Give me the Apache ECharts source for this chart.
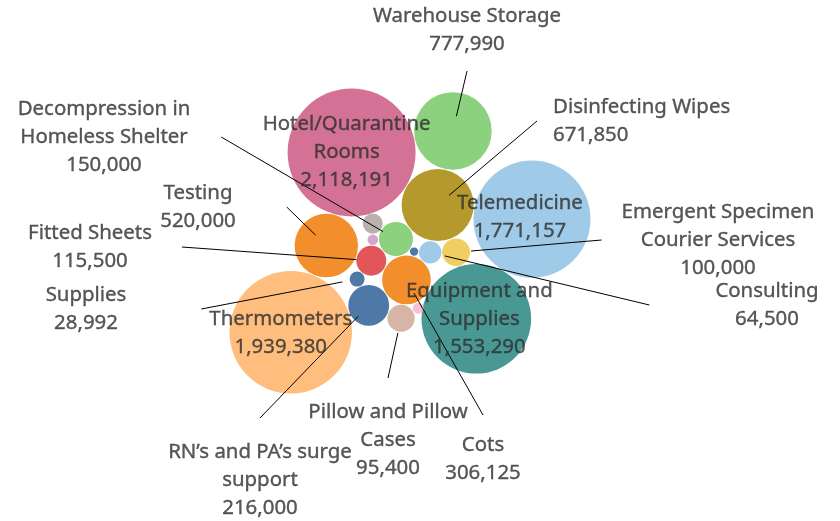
<!DOCTYPE html>
<html>
<head>
<meta charset="utf-8">
<script src="https://cdn.jsdelivr.net/npm/echarts@6/dist/echarts.min.js"></script>
<style>
  html, body { margin: 0; padding: 0; background: #fff; }
  #chart { width: 840px; height: 521px; }
</style>
</head>
<body>
<div id="chart"></div>
<script>
// spending per item (the four small unlabelled bubbles have no visible name)
const categories = [
  'Hotel/Quarantine Rooms', 'Thermometers', 'Telemedicine', 'Equipment and Supplies',
  'Warehouse Storage', 'Disinfecting Wipes', 'Testing', 'Cots',
  'RN’s and PA’s surge support', 'Decompression in Homeless Shelter', 'Fitted Sheets',
  'Emergent Specimen Courier Services', 'Pillow and Pillow Cases', 'Consulting',
  'Other (grey)', 'Supplies', 'Other (pink)', 'Other (lilac)', 'Other (blue)'
];
const amounts = [
  2118191, 1939380, 1771157, 1553290,
  777990, 671850, 520000, 306125,
  216000, 150000, 115500,
  100000, 95400, 64500,
  52000, 28992, 15600, 14500, 9100
];

// tableau 20 colours
const colors = {
  'Hotel/Quarantine Rooms': '#d37295', 'Thermometers': '#ffbe7d', 'Telemedicine': '#a0cbe8',
  'Equipment and Supplies': '#499894', 'Warehouse Storage': '#8cd17d', 'Disinfecting Wipes': '#b6992d',
  'Testing': '#f28e2b', 'Cots': '#f28e2b', 'RN’s and PA’s surge support': '#4e79a7',
  'Decompression in Homeless Shelter': '#8cd17d', 'Fitted Sheets': '#e15759',
  'Emergent Specimen Courier Services': '#f1ce63', 'Pillow and Pillow Cases': '#d7b5a6',
  'Consulting': '#a0cbe8', 'Other (grey)': '#bab0ac', 'Supplies': '#4e79a7',
  'Other (pink)': '#fabfd2', 'Other (lilac)': '#d4a6c8', 'Other (blue)': '#4e79a7'
};

// packing: each bubble is set tangent to one bubble (at an angle) or to two
// bubbles (on the right hand side going from the first to the second)
const packPlan = [
  { name: 'Cots' },
  { name: 'Decompression in Homeless Shelter', touch: ['Cots'], angle: -104.5 },
  { name: 'Fitted Sheets', touch: ['Decompression in Homeless Shelter', 'Cots'] },
  { name: 'Other (lilac)', touch: ['Decompression in Homeless Shelter', 'Fitted Sheets'] },
  { name: 'Other (grey)', touch: ['Decompression in Homeless Shelter', 'Other (lilac)'] },
  { name: 'RN’s and PA’s surge support', touch: ['Cots'], angle: 146 },
  { name: 'Supplies', touch: ['Fitted Sheets', 'RN’s and PA’s surge support'] },
  { name: 'Pillow and Pillow Cases', touch: ['RN’s and PA’s surge support', 'Cots'] },
  { name: 'Other (pink)', touch: ['Pillow and Pillow Cases', 'Cots'] },
  { name: 'Other (blue)', touch: ['Cots', 'Decompression in Homeless Shelter'] },
  { name: 'Consulting', touch: ['Cots', 'Other (blue)'] },
  { name: 'Disinfecting Wipes', touch: ['Consulting', 'Decompression in Homeless Shelter'] },
  { name: 'Emergent Specimen Courier Services', touch: ['Consulting', 'Disinfecting Wipes'] },
  { name: 'Testing', touch: ['Fitted Sheets'], angle: -161.4 },
  { name: 'Equipment and Supplies', touch: ['Cots', 'Emergent Specimen Courier Services'] },
  { name: 'Telemedicine', touch: ['Equipment and Supplies', 'Disinfecting Wipes'] },
  { name: 'Thermometers', touch: ['Testing', 'RN’s and PA’s surge support'] },
  { name: 'Hotel/Quarantine Rooms', touch: ['Disinfecting Wipes', 'Testing'] },
  { name: 'Warehouse Storage', touch: ['Disinfecting Wipes', 'Hotel/Quarantine Rooms'] }
];

// labels outside the bubbles: text centre, align, padding on the side the line leaves from
const outsideLabels = {
  'Warehouse Storage': { x: 467, y: 30, padding: [13, 0, 13, 0] },
  'Disinfecting Wipes': { x: 537, y: 121, align: 'left', padding: [0, 16, 0, 16] },
  'Decompression in Homeless Shelter': { x: 104, y: 137, padding: [0, 31, 0, 31] },
  'Testing': { x: 198, y: 207, padding: [0, 51, 0, 51] },
  'Fitted Sheets': { x: 90, y: 247, padding: [0, 30, 0, 30] },
  'Supplies': { x: 86, y: 309, padding: [0, 75, 0, 75] },
  'Emergent Specimen Courier Services': { x: 718, y: 240, padding: [0, 20, 0, 20] },
  'Consulting': { x: 767, y: 305, padding: [0, 66, 0, 66] },
  'RN’s and PA’s surge support': { x: 260, y: 480, padding: [20, 0, 20, 0] },
  'Pillow and Pillow Cases': { x: 388, y: 440, padding: [20, 0, 20, 0] },
  'Cots': { x: 483, y: 459, padding: [16, 0, 16, 0] }
};
// labels inside the bubbles: offset from the bubble centre
const insideLabels = {
  'Hotel/Quarantine Rooms': [-5, 0],
  'Telemedicine': [-12, -2],
  'Thermometers': [-10, 1],
  'Equipment and Supplies': [3, 0]
};

const FONT = '"Noto Sans", sans-serif';
const FONT_SIZE = 20.4;
const MAX_R = 64;
const CENTER = [410, 241];
const maxAmount = Math.max(...amounts);
const rScale = v => MAX_R * Math.sqrt(v / maxAmount);

function packCircles () {
  const pos = {};
  const gap = 0.8;
  packPlan.forEach(step => {
    const r = rScale(amounts[categories.indexOf(step.name)]);
    if (!step.touch) {
      pos[step.name] = { x: 0, y: 0, r };
      return;
    }
    const a = pos[step.touch[0]];
    if (step.touch.length === 1) {
      const t = step.angle * Math.PI / 180;
      const d = a.r + r + gap;
      pos[step.name] = { x: a.x + d * Math.cos(t), y: a.y + d * Math.sin(t), r };
      return;
    }
    const b = pos[step.touch[1]];
    const da = a.r + r + gap;
    const db = b.r + r + gap;
    const dx = b.x - a.x;
    const dy = b.y - a.y;
    const d = Math.hypot(dx, dy);
    const along = (da * da - db * db + d * d) / (2 * d);
    const h = Math.sqrt(Math.max(0, da * da - along * along));
    const ux = dx / d;
    const uy = dy / d;
    pos[step.name] = { x: a.x + along * ux - h * uy, y: a.y + along * uy + h * ux, r };
  });
  // centre the whole pack
  const all = Object.values(pos);
  const x0 = Math.min(...all.map(c => c.x - c.r));
  const x1 = Math.max(...all.map(c => c.x + c.r));
  const y0 = Math.min(...all.map(c => c.y - c.r));
  const y1 = Math.max(...all.map(c => c.y + c.r));
  const sx = CENTER[0] - (x0 + x1) / 2;
  const sy = CENTER[1] - (y0 + y1) / 2;
  all.forEach(c => { c.x += sx; c.y += sy; });
  return pos;
}

const ctx = document.createElement('canvas').getContext('2d');
ctx.font = FONT_SIZE + 'px ' + FONT;
function wrap (text, maxW) {
  const lines = [];
  let cur = '';
  text.split(' ').forEach(w => {
    const t = cur ? cur + ' ' + w : w;
    if (cur && ctx.measureText(t).width > maxW) {
      lines.push(cur);
      cur = w;
    } else {
      cur = t;
    }
  });
  lines.push(cur);
  return lines.join('\n');
}

const pos = packCircles();
const labelled = categories.filter(n => outsideLabels[n] || insideLabels[n]);

const bubbleData = categories.map((name, i) => ({
  name,
  value: [pos[name].x, pos[name].y, amounts[i]],
  itemStyle: { color: colors[name] }
}));

const labelData = labelled.map(name => {
  const out = outsideLabels[name];
  const item = {
    name,
    value: [pos[name].x, pos[name].y, amounts[categories.indexOf(name)]]
  };
  if (out) {
    item.label = { padding: out.padding, align: out.align || 'center' };
  } else {
    item.labelLine = { show: false };
  }
  return item;
});

const chart = echarts.init(document.getElementById('chart'));
chart.setOption({
  animation: false,
  backgroundColor: '#ffffff',
  grid: { left: 0, right: 0, top: 0, bottom: 0 },
  xAxis: { type: 'value', min: 0, max: 840, show: false },
  yAxis: { type: 'value', min: 0, max: 521, inverse: true, show: false },
  series: [
    {
      type: 'scatter',
      z: 2,
      silent: true,
      symbol: 'circle',
      symbolSize: val => 2 * rScale(val[2]),
      itemStyle: { opacity: 1 },
      data: bubbleData
    },
    {
      // invisible small circles: carry the labels and the leader lines, drawn above the bubbles
      type: 'scatter',
      z: 3,
      silent: true,
      symbol: 'circle',
      symbolSize: 30,
      itemStyle: { color: 'rgba(0,0,0,0)' },
      label: {
        show: true,
        position: 'inside',
        color: '#2e2e2e',
        textBorderColor: '#2e2e2e',
        textBorderWidth: 0.35,
        fontFamily: FONT,
        fontSize: FONT_SIZE,
        lineHeight: 28,
        formatter: p => wrap(p.name, 208) + '\n' + p.value[2].toLocaleString('en-US')
      },
      labelLine: {
        show: true,
        lineStyle: { color: '#000000', width: 1, opacity: 1 }
      },
      labelLayout: params => {
        const name = labelled[params.dataIndex];
        const out = outsideLabels[name];
        if (out) {
          return { x: out.x, y: out.y, align: out.align || 'center', verticalAlign: 'middle' };
        }
        const off = insideLabels[name];
        return { dx: off[0], dy: off[1] };
      },
      data: labelData
    }
  ]
});
</script>
</body>
</html>
